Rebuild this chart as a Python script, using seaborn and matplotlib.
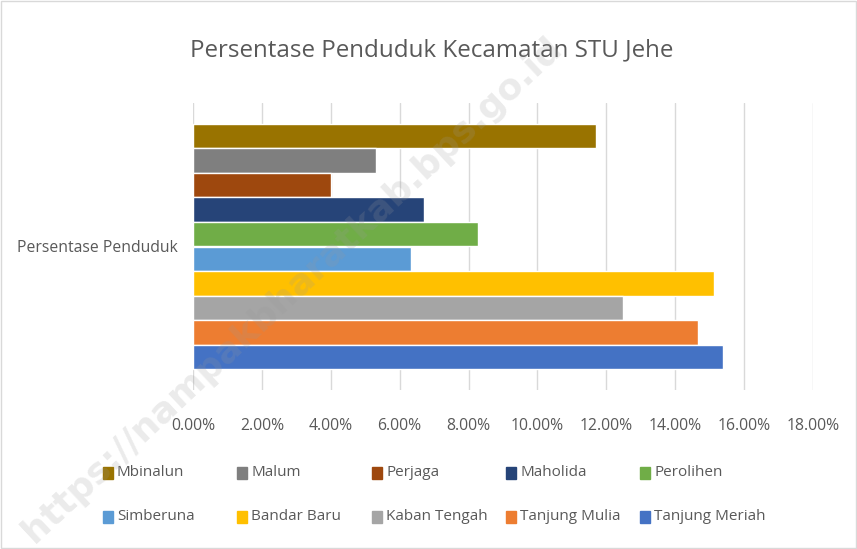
import pandas as pd
import matplotlib
matplotlib.use('Agg')
import matplotlib.pyplot as plt
import matplotlib.patches as mpatches
import seaborn as sns

# district shares (percent), top to bottom as drawn
kecamatan = ['Mbinalun', 'Malum', 'Perjaga', 'Maholida', 'Perolihen',
             'Simberuna', 'Bandar Baru', 'Kaban Tengah', 'Tanjung Mulia', 'Tanjung Meriah']
persen = [11.69, 5.30, 4.00, 6.72, 8.27, 6.33, 15.13, 12.48, 14.66, 15.38]
warna = ['#997300', '#7F7F7F', '#9E480E', '#264478', '#70AD47',
         '#5B9BD5', '#FFC000', '#A5A5A5', '#ED7D31', '#4472C4']
kategori = 'Persentase Penduduk'
xticks = [0, 2, 4, 6, 8, 10, 12, 14, 16, 18]

df = pd.DataFrame({'kategori': kategori, 'kecamatan': kecamatan, 'persen': persen})

sns.set_style('white')
plt.rcParams['font.family'] = ['Open Sans', 'DejaVu Sans']

W, H = 857, 549
fig = plt.figure(figsize=(W / 100, H / 100), dpi=100)
ax = fig.add_axes([193 / W, 1 - 390 / H, 620 / W, 287 / H])

sns.barplot(data=df, x='persen', y='kategori', hue='kecamatan', hue_order=kecamatan,
            palette=dict(zip(kecamatan, warna)), orient='h', width=0.857,
            dodge=True, legend=False, saturation=1, ax=ax)

ax.set_xlim(0, 18)
ax.set_xticks(xticks)
ax.set_xticklabels([f'{t:.2f}%' for t in xticks], fontsize=11.3, color='#595959')
ax.tick_params(axis='x', length=0, pad=20)
ax.tick_params(axis='y', length=0, pad=11, labelsize=11.3, labelcolor='#595959')
ax.set_xlabel('')
ax.set_ylabel('')
ax.grid(axis='x', color='#D9D9D9', linewidth=1)
ax.set_axisbelow(True)
for s in ax.spines.values():
    s.set_visible(False)

fig.text(432 / W, 1 - 50 / H, 'Persentase Penduduk Kecamatan STU Jehe', ha='center', va='center',
         fontsize=17.4, color='#595959')

# legend drawn by hand, row by row on a fixed grid
kolom_x = [103, 237, 372, 506, 640]
baris_y = [473, 517]
for i, (k, c) in enumerate(zip(kecamatan, warna)):
    x0 = kolom_x[i % 5]
    y0 = baris_y[i // 5]
    fig.patches.append(mpatches.Rectangle((x0 / W, 1 - (y0 + 6) / H), 10 / W, 12 / H,
                                          transform=fig.transFigure, color=c))
    fig.text((x0 + 14) / W, 1 - y0 / H, k, ha='left', va='center', fontsize=11, color='#595959')

# watermark
fig.text(292 / W, 1 - 290 / H, 'https://nampakbharatkab.bps.go.id', rotation=43, ha='center',
         va='center', fontsize=26, fontweight='bold', color='#999999', alpha=0.2,
         family='DejaVu Sans')

fig.patches.append(mpatches.Rectangle((0.001, 0.001), 0.998, 0.998, transform=fig.transFigure,
                                      fill=False, edgecolor='#D9D9D9', linewidth=1))

fig.savefig('out.png', dpi=100)
